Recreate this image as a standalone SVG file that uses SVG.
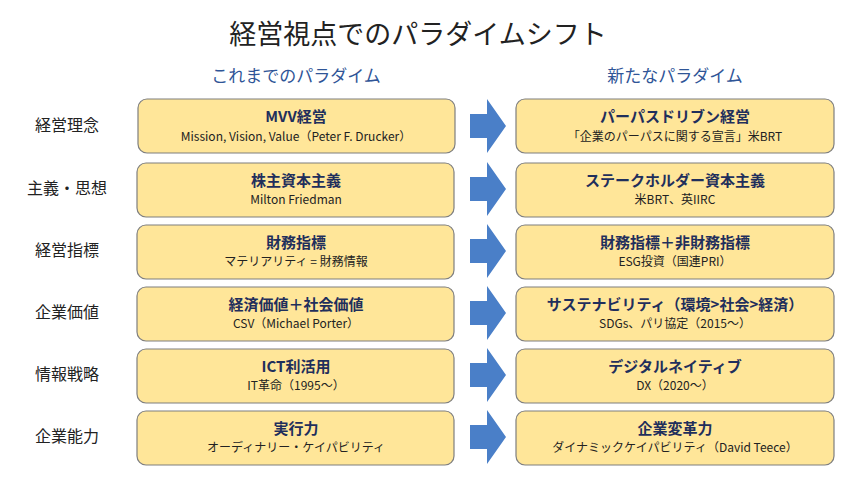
<svg xmlns="http://www.w3.org/2000/svg" width="860" height="483" viewBox="0 0 860 483">
<style>
.t{font-family:"Noto Sans CJK JP","Noto Sans",sans-serif}
.box{fill:#FFE699;stroke:#7f7f7f;stroke-width:1.2}
.h{font-size:15px;font-weight:bold;fill:#1F2F5C;text-anchor:middle}
.s{font-size:12px;fill:#222;text-anchor:middle}
.cat{font-size:16px;fill:#222;text-anchor:middle}
.sub{font-size:17px;fill:#2F5597;text-anchor:middle}
.arr{fill:#4A7FC8}
</style>
<rect width="860" height="483" fill="#fff"/>
<text class="t" x="418" y="44" font-size="27" fill="#222" text-anchor="middle">経営視点でのパラダイムシフト</text>
<text class="t sub" x="296" y="82">これまでのパラダイム</text>
<text class="t sub" x="675" y="82">新たなパラダイム</text>
<defs><path id="a" class="arr" d="M470,-12 H487 V-27 L506,0 L487,27 V12 H470 Z"/></defs>
<g id="connectors">
<use href="#a" y="126"/><use href="#a" y="189"/><use href="#a" y="251"/><use href="#a" y="313"/><use href="#a" y="375"/><use href="#a" y="437"/>
</g>
<g id="row1"><text class="t cat" x="67" y="131">経営理念</text>
<rect class="box" x="138" y="99" width="317" height="54" rx="9"/><text class="t h" x="296" y="122">MVV経営</text><text class="t s" x="296" y="141">Mission, Vision, Value（Peter F. Drucker）</text>
<rect class="box" x="516" y="99" width="318" height="54" rx="9"/><text class="t h" x="675" y="122">パーパスドリブン経営</text><text class="t s" x="675" y="141">「企業のパーパスに関する宣言」米BRT</text></g>
<g id="row2"><text class="t cat" x="67" y="194">主義・思想</text>
<rect class="box" x="137" y="163" width="317" height="54" rx="9"/><text class="t h" x="296" y="186">株主資本主義</text><text class="t s" x="296" y="204">Milton Friedman</text>
<rect class="box" x="516" y="163" width="318" height="54" rx="9"/><text class="t h" x="675" y="186">ステークホルダー資本主義</text><text class="t s" x="675" y="204">米BRT、英IIRC</text></g>
<g id="row3"><text class="t cat" x="67" y="256">経営指標</text>
<rect class="box" x="137" y="225" width="317" height="54" rx="9"/><text class="t h" x="296" y="248">財務指標</text><text class="t s" x="296" y="266">マテリアリティ = 財務情報</text>
<rect class="box" x="516" y="225" width="318" height="54" rx="9"/><text class="t h" x="675" y="248">財務指標＋非財務指標</text><text class="t s" x="675" y="266">ESG投資（国連PRI）</text></g>
<g id="row4"><text class="t cat" x="67" y="318">企業価値</text>
<rect class="box" x="137" y="287" width="317" height="54" rx="9"/><text class="t h" x="296" y="310">経済価値＋社会価値</text><text class="t s" x="296" y="328">CSV（Michael Porter）</text>
<rect class="box" x="516" y="287" width="318" height="54" rx="9"/><text class="t h" x="675" y="310">サステナビリティ（環境&gt;社会&gt;経済）</text><text class="t s" x="675" y="328">SDGs、パリ協定（2015～）</text></g>
<g id="row5"><text class="t cat" x="67" y="380">情報戦略</text>
<rect class="box" x="137" y="349" width="317" height="54" rx="9"/><text class="t h" x="296" y="372">ICT利活用</text><text class="t s" x="296" y="390">IT革命（1995～）</text>
<rect class="box" x="516" y="349" width="318" height="54" rx="9"/><text class="t h" x="675" y="372">デジタルネイティブ</text><text class="t s" x="675" y="390">DX（2020～）</text></g>
<g id="row6"><text class="t cat" x="67" y="442">企業能力</text>
<rect class="box" x="137" y="411" width="317" height="54" rx="9"/><text class="t h" x="296" y="434">実行力</text><text class="t s" x="296" y="452">オーディナリー・ケイパビリティ</text>
<rect class="box" x="516" y="411" width="318" height="54" rx="9"/><text class="t h" x="675" y="434">企業変革力</text><text class="t s" x="675" y="452">ダイナミックケイパビリティ（David Teece）</text></g>
</svg>
